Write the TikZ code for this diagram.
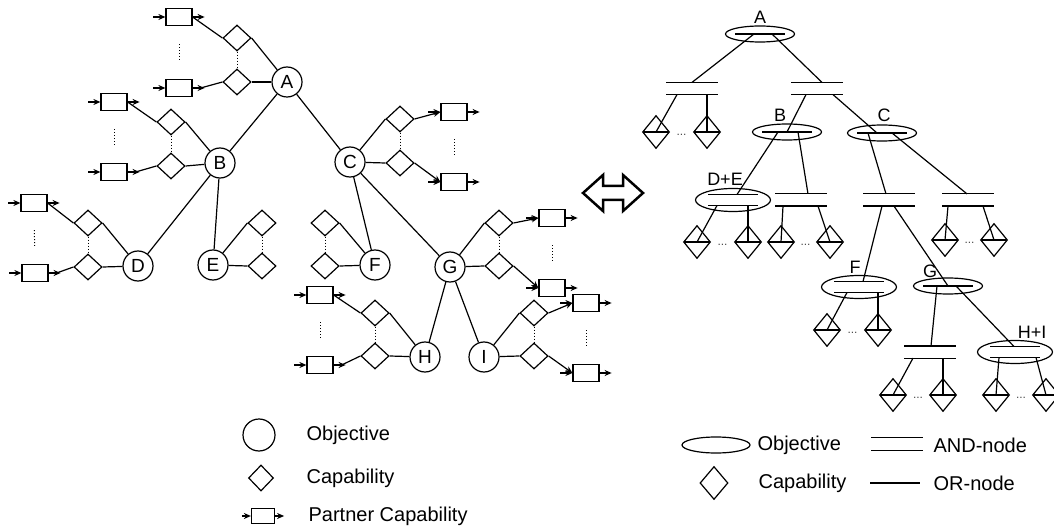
\documentclass[tikz,border=0pt]{standalone}
\usepackage{fontspec}
\setmainfont{Liberation Sans}
\usepackage{tikz}
\usetikzlibrary{arrows,arrows.meta,shapes}
\tikzstyle{obj}=[circle,draw,minimum size=30pt,inner sep=0pt,font=\fontsize{19}{19}\selectfont]
\tikzstyle{capab}=[diamond,draw,minimum width=28pt,minimum height=26pt,inner sep=0pt]
\tikzstyle{partner}=[rectangle,draw,minimum width=26pt,minimum height=17pt,inner sep=0pt]
\tikzstyle{treeobj}=[ellipse,draw,minimum width=69pt,minimum height=16pt,inner sep=0pt,
  path picture={\draw ([xshift=-25pt]path picture bounding box.center) -- ([xshift=25pt]path picture bounding box.center);}]
\tikzstyle{treeobjand}=[ellipse,draw,minimum width=75pt,minimum height=23pt,inner sep=0pt,
  path picture={\draw ([xshift=-25pt,yshift=5.5pt]path picture bounding box.center) -- ([xshift=25pt,yshift=5.5pt]path picture bounding box.center)
    ([xshift=-25pt,yshift=-5.5pt]path picture bounding box.center) -- ([xshift=25pt,yshift=-5.5pt]path picture bounding box.center);}]
\tikzstyle{andnode}=[minimum width=50pt,minimum height=11pt,inner sep=0pt,
  append after command={(\tikzlastnode.north west) edge (\tikzlastnode.north east) (\tikzlastnode.south west) edge (\tikzlastnode.south east)}]
\tikzstyle{treecapab}=[diamond,draw,minimum width=27pt,minimum height=33pt,inner sep=0pt,
  path picture={\draw (path picture bounding box.west) -- (path picture bounding box.east);}]
\tikzstyle{lbl}=[font=\fontsize{18}{18}\selectfont,inner sep=0pt]
\tikzstyle{lgtext}=[anchor=west,font=\fontsize{20}{20}\selectfont,inner sep=0pt]
\tikzstyle{tdots}=[font=\fontsize{12}{12}\selectfont,text=black!70,inner sep=0pt]
\tikzstyle{dotcol}=[line width=1pt,dash pattern=on 1pt off 2pt]

\begin{document}
\begin{tikzpicture}[x=1pt,y=-1pt,line width=1.2pt,>={Stealth[length=7pt,width=6pt]}]
        \useasboundingbox (0,0) rectangle (1054,529);

        % objectives
        \node at (287,82) [obj] (A) {A};
        \node at (220,163) [obj] (B) {B};
        \node at (350,162) [obj] (C) {C};
        \node at (138,266) [obj] (D) {D};
        \node at (213,265) [obj] (E) {E};
        \node at (375,265) [obj] (F) {F};
        \node at (450,267) [obj] (G) {G};
        \node at (425,357) [obj] (H) {H};
        \node at (484,357) [obj] (I) {I};
        \draw (A) -- (B);
        \draw (A) -- (C);
        \draw (B) -- (D);
        \draw (B) -- (E);
        \draw (C) -- (F);
        \draw (C) -- (G);
        \draw (G) -- (H);
        \draw (G) -- (I);

        % capabilities
        \node at (237,38) [capab] (dA1) {};
        \node at (237,82) [capab] (dA2) {};
        \node at (171,122) [capab] (dB1) {};
        \node at (171,166) [capab] (dB2) {};
        \node at (400,119) [capab] (dC1) {};
        \node at (400,163) [capab] (dC2) {};
        \node at (88,223) [capab] (dD1) {};
        \node at (88,267) [capab] (dD2) {};
        \node at (262,223) [capab] (dE1) {};
        \node at (262,266) [capab] (dE2) {};
        \node at (325,223) [capab] (dF1) {};
        \node at (325,266) [capab] (dF2) {};
        \node at (499,223) [capab] (dG1) {};
        \node at (499,266) [capab] (dG2) {};
        \node at (375,313) [capab] (dH1) {};
        \node at (375,356) [capab] (dH2) {};
        \node at (534,313) [capab] (dI1) {};
        \node at (534,356) [capab] (dI2) {};
        \foreach \o/\s in {A/east,B/east,D/east,F/east,H/east,C/west,E/west,G/west,I/west} {
          \draw (d\o1.\s) -- (\o);
          \draw (d\o2.\s) -- (\o);
          \draw[dotcol] (d\o1.south) -- (d\o2.north);
        }

        % partner capabilities
        \node at (179,17) [partner] (pA1) {};
        \node at (179,88) [partner] (pA2) {};
        \node at (114,102) [partner] (pB1) {};
        \node at (114,172) [partner] (pB2) {};
        \node at (454,112) [partner] (pC1) {};
        \node at (454,182) [partner] (pC2) {};
        \node at (34,203) [partner] (pD1) {};
        \node at (35,273) [partner] (pD2) {};
        \node at (552,218) [partner] (pG1) {};
        \node at (552,288) [partner] (pG2) {};
        \node at (320,295) [partner] (pH1) {};
        \node at (320,365) [partner] (pH2) {};
        \node at (586,303) [partner] (pI1) {};
        \node at (586,373) [partner] (pI2) {};
        \foreach \p in {pA1,pA2,pB1,pB2,pC1,pC2,pD1,pD2,pG1,pG2,pH1,pH2,pI1,pI2} {
          \draw[->] ([xshift=-12pt]\p.west) -- (\p.west);
          \draw[->] (\p.east) -- ([xshift=12pt]\p.east);
        }
        \foreach \o in {A,B,D,H} {
          \draw (d\o1.west) -- (p\o1.east);
          \draw (d\o2.west) -- ([xshift=8pt]p\o2.east);
          \draw[dotcol,shorten >=18pt,shorten <=18pt] (p\o1) -- (p\o2);
        }
        \foreach \o in {C,G,I} {
          \draw[->] (d\o1.east) -- (p\o1.west);
          \draw[->] (d\o2.east) -- (p\o2.west);
          \draw[dotcol,shorten >=18pt,shorten <=18pt] (p\o1) -- (p\o2);
        }

        % legend (left)
        \node at (259,435) [obj,minimum size=32pt] (lgObj) {};
        \node at (306,435) [lgtext] (tObj) {Objective};
        \node at (261,478) [capab,minimum width=25pt,minimum height=26pt] (lgCap) {};
        \node at (306,478) [lgtext] (tCap) {Capability};
        \node at (263,516) [partner,minimum width=23pt,minimum height=15pt] (lgPar) {};
        \draw[->] ([xshift=-9pt]lgPar.west) -- (lgPar.west);
        \draw[->] (lgPar.east) -- ([xshift=9pt]lgPar.east);
        \node at (308,516) [lgtext] (tPar) {Partner Capability};

        % equivalence arrow
        \draw[line width=2.5pt,line join=miter] (583,193) -- (603,175) -- (603,186) -- (623,186) -- (623,175)
          -- (643,193) -- (623,211) -- (623,200) -- (603,200) -- (603,211) -- cycle;

        % tree
        \node at (760,34) [treeobj] (eA) {};
        \node at (760,17) [lbl] (lA) {A};
        \node at (692,88.5) [andnode] (and1) {};
        \node at (817,88.5) [andnode] (and2) {};
        \node at (787,132) [treeobj] (eB) {};
        \node at (780,115) [lbl] (lB) {B};
        \node at (882,133) [treeobj] (eC) {};
        \node at (884,115) [lbl] (lC) {C};
        \node at (733,200) [treeobjand] (eDE) {};
        \node at (725,179) [lbl] (lDE) {D+E};
        \node at (801,200) [andnode] (and3) {};
        \node at (889,200) [andnode] (and4) {};
        \node at (968,200) [andnode] (and5) {};
        \node at (859,287) [treeobjand] (eF) {};
        \node at (855,267) [lbl] (lF) {F};
        \node at (948,286) [treeobj] (eG) {};
        \node at (930,271) [lbl] (lG) {G};
        \node at (930,352) [andnode] (and6) {};
        \node at (1015,352) [treeobjand] (eHI) {};
        \node at (1032,332) [lbl] (lHI) {H+I};

        \node at (656,132) [treecapab] (c1) {};
        \node at (707,132) [treecapab] (c2) {};
        \node at (697,242) [treecapab] (c3) {};
        \node at (748,242) [treecapab] (c4) {};
        \node at (781,242) [treecapab] (c5) {};
        \node at (830,242) [treecapab] (c6) {};
        \node at (945,240) [treecapab] (c7) {};
        \node at (994,240) [treecapab] (c8) {};
        \node at (827,330) [treecapab] (c9) {};
        \node at (878,330) [treecapab] (c10) {};
        \node at (893,395) [treecapab] (c11) {};
        \node at (943,395) [treecapab] (c12) {};
        \node at (996,395) [treecapab] (c13) {};
        \node at (1046,395) [treecapab] (c14) {};
        \foreach \a/\b in {c1/c2,c3/c4,c5/c6,c7/c8,c9/c10,c11/c12,c13/c14}
          \path (\a) -- (\b) node[midway,yshift=-3pt,tdots] {...};

        \draw ([xshift=-6pt]eA.center) -- (and1.north);
        \draw ([xshift=12pt]eA.center) -- ([xshift=5pt]and2.north);
        \draw ([xshift=-15pt]and1.south) -- (c1.center);
        \draw ([xshift=15pt]and1.south) -- (c2.center);
        \draw ([xshift=-11pt]and2.south) -- (eB.center);
        \draw ([xshift=16pt]and2.south) -- ([xshift=-5pt]eC.center);
        \draw ([xshift=-9pt]eB.center) -- ([xshift=4pt,yshift=5.5pt]eDE.center);
        \draw ([xshift=11pt]eB.center) -- ([xshift=7pt]and3.north);
        \draw ([xshift=-14pt]eC.center) -- ([xshift=-3pt]and4.north);
        \draw ([xshift=10pt]eC.center) -- ([xshift=-1pt]and5.north);
        \draw ([xshift=-16pt,yshift=-5.5pt]eDE.center) -- (c3.center);
        \draw ([xshift=15pt,yshift=-5.5pt]eDE.center) -- (c4.center);
        \draw ([xshift=-18pt]and3.south) -- (c5.center);
        \draw ([xshift=17pt]and3.south) -- (c6.center);
        \draw ([xshift=-7pt]and4.south) -- ([xshift=4pt,yshift=5.5pt]eF.center);
        \draw ([xshift=5pt]and4.south) -- (eG.center);
        \draw ([xshift=-20pt]and5.south) -- (c7.center);
        \draw ([xshift=15pt]and5.south) -- (c8.center);
        \draw ([xshift=-12pt,yshift=-5.5pt]eF.center) -- (c9.center);
        \draw ([xshift=19pt,yshift=-5.5pt]eF.center) -- (c10.center);
        \draw ([xshift=-11pt]eG.center) -- ([xshift=1pt]and6.north);
        \draw ([xshift=8pt]eG.center) -- ([xshift=-1pt,yshift=5.5pt]eHI.center);
        \draw ([xshift=-17pt]and6.south) -- (c11.center);
        \draw ([xshift=13pt]and6.south) -- (c12.center);
        \draw ([xshift=-16pt,yshift=-5.5pt]eHI.center) -- (c13.center);
        \draw ([xshift=21pt,yshift=-5.5pt]eHI.center) -- (c14.center);

        % legend (right)
        \node at (716,445) [ellipse,draw,minimum width=68pt,minimum height=16pt,inner sep=0pt] (lgEll) {};
        \node at (757,445) [lgtext] (tEll) {Objective};
        \node at (897,444) [andnode,minimum height=12pt] (lgAnd) {};
        \node at (933,445) [lgtext] (tAnd) {AND-node};
        \node at (714,483) [capab,minimum width=28pt,minimum height=33pt] (lgCap2) {};
        \node at (758,483) [lgtext] (tCap2) {Capability};
        \coordinate (orL) at (870,483);
        \coordinate (orR) at (920,483);
        \draw (orL) -- (orR);
        \node at (933,483) [lgtext] (tOr) {OR-node};
      \end{tikzpicture}
\end{document}
